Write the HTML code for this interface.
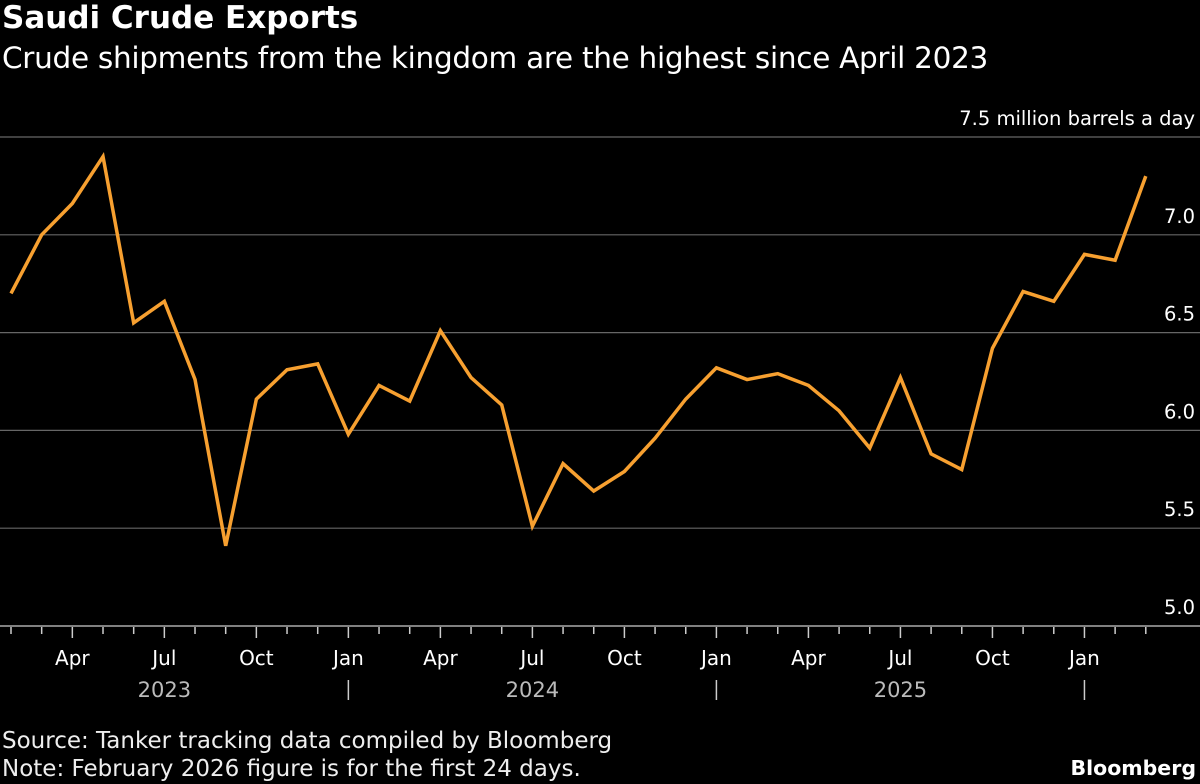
<!DOCTYPE html>
<html><head><meta charset="utf-8"><style>
body{margin:0;background:#000;width:1200px;height:784px;overflow:hidden;font-family:"DejaVu Sans",sans-serif;color:#fff}
.t{position:absolute;white-space:nowrap}
</style></head><body>
<div class="t" style="left:2px;top:0px;font-size:31px;font-weight:bold">Saudi Crude Exports</div>
<div class="t" style="left:2px;top:41px;font-size:29.5px;letter-spacing:-0.3px">Crude shipments from the kingdom are the highest since April 2023</div>
<svg id="c" width="1200" height="784" style="position:absolute;left:0;top:0;font-family:'DejaVu Sans',sans-serif"></svg>
<div class="t" style="left:2px;top:728px;font-size:23px;color:#eee">Source: Tanker tracking data compiled by Bloomberg</div>
<div class="t" style="left:2px;top:756px;font-size:23px;color:#eee">Note: February 2026 figure is for the first 24 days.</div>
<div class="t" style="right:4px;top:756px;font-size:20.5px;font-weight:bold">Bloomberg</div>
<script>
const months=["Jan 2023","Feb 2023","Mar 2023","Apr 2023","May 2023","Jun 2023","Jul 2023","Aug 2023","Sep 2023","Oct 2023","Nov 2023","Dec 2023","Jan 2024","Feb 2024","Mar 2024","Apr 2024","May 2024","Jun 2024","Jul 2024","Aug 2024","Sep 2024","Oct 2024","Nov 2024","Dec 2024","Jan 2025","Feb 2025","Mar 2025","Apr 2025","May 2025","Jun 2025","Jul 2025","Aug 2025","Sep 2025","Oct 2025","Nov 2025","Dec 2025","Jan 2026","Feb 2026"];
const exportsMbd=[6.70,7.00,7.16,7.40,6.55,6.66,6.26,5.41,6.16,6.31,6.34,5.98,6.23,6.15,6.51,6.27,6.13,5.51,5.83,5.69,5.79,5.96,6.16,6.32,6.26,6.29,6.23,6.10,5.91,6.27,5.88,5.80,6.42,6.71,6.66,6.90,6.87,7.30];
const yTicks=[5.0,5.5,6.0,6.5,7.0,7.5];
const quarterLabels=["Jan","Apr","Jul","Oct"];
const years=["2023","2024","2025"];
const svg=document.getElementById('c');const NS="http://www.w3.org/2000/svg";
const step=30.67;
const x=i=>11+i*step;
const y=v=>626-(v-5)*195.6;
function mk(t,a,p){const e=document.createElementNS(NS,t);for(const k in a)e.setAttribute(k,a[k]);(p||svg).appendChild(e);return e;}
yTicks.forEach(v=>{
 const l=mk('line',{x1:0,x2:1200,y1:y(v),y2:y(v),stroke:v===5?'#aaa':'#666','stroke-width':v===5?1.5:1.2});
 
 
 const t=mk('text',{x:1195,y:y(v)-12,'text-anchor':'end',fill:'#fff','font-size':19.5});
 t.textContent=v===7.5?'7.5 million barrels a day':v.toFixed(1);
 
 
});
for(let i=0;i<=months.length;i++){
 const xp=x(i)-step; if(xp<0)continue;
 const m=i%12; const major=m%3===0;
 const tk=mk('line',{x1:xp,x2:xp,y1:627,y2:major?638:634,stroke:'#ccc','stroke-width':1.5});
 
 
 if(major && i<months.length){
  const t=mk('text',{x:xp,y:665,'text-anchor':'middle',fill:'#fff','font-size':20});
  t.textContent=quarterLabels[m/3];
  
  
  if(m===0 && i>0){
   const s=mk('line',{x1:xp,x2:xp,y1:680,y2:700,stroke:'#ccc','stroke-width':1.5});
   
   
  }
 }
}
years.forEach((yr,k)=>{
 const xc=(x(k*12)-step+x(k*12+12)-step)/2;
 const t=mk('text',{x:xc,y:697,'text-anchor':'middle',fill:'#bbb','font-size':21});
 t.textContent=yr;
 
 
});
const line=mk('polyline',{points:exportsMbd.map((v,i)=>x(i)+','+y(v)).join(' '),fill:'none',stroke:'#f7a030','stroke-width':3.5,'stroke-linejoin':'miter'});


</script>
</body></html>
